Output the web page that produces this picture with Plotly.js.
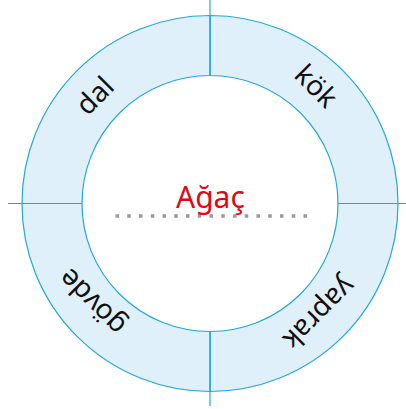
<!DOCTYPE html>
<html>
<head>
<meta charset="utf-8">
<script src="https://cdn.plot.ly/plotly-3.0.1.min.js"></script>
<style>html,body{margin:0;padding:0;background:#fff;}#chart{width:406px;height:409px;}</style>
</head>
<body>
<div id="chart"></div>
<script>
// Data
const categories = ["kök", "yaprak", "gövde", "dal"];
const sliceValues = [1, 1, 1, 1];
const centerTitle = "Ağaç";
// label placement (polar, in px around the ring centre) and rotation
const labelAngles = [48, -45, -140, 137];     // degrees, counter-clockwise from +x
const labelRadii = [160, 157, 155, 159];
const labelRotations = [45, 135, -135, -45];

// Layout geometry (pixels)
const W = 406, H = 409;
const cx = 210, cy = 203.5;         // centre from top-left
const rOut = 188, rIn = 128;
const stroke = "#22a7e2", fill = "#dff0fb";

const px = x => x / W;
const py = y => (H - y) / H;

const pie = {
  type: "pie",
  labels: categories,
  values: sliceValues,
  sort: false,
  direction: "clockwise",
  rotation: 0,
  hole: rIn / rOut,
  textinfo: "none",
  hoverinfo: "skip",
  showlegend: false,
  marker: { colors: categories.map(() => fill), line: { color: stroke, width: 1.2 } },
  domain: { x: [px(cx - rOut), px(cx + rOut)], y: [py(cy + rOut), py(cy - rOut)] }
};

const annotations = categories.map((c, i) => {
  const a = labelAngles[i] * Math.PI / 180;
  return {
    text: c, xref: "paper", yref: "paper",
    x: px(cx + labelRadii[i] * Math.cos(a)), y: py(cy - labelRadii[i] * Math.sin(a)),
    xanchor: "center", yanchor: "middle", showarrow: false,
    textangle: labelRotations[i],
    font: { family: "Noto Sans", size: 28, color: "#111" }
  };
});
annotations.push({
  text: centerTitle, xref: "paper", yref: "paper",
  x: px(cx), y: py(196), xanchor: "center", yanchor: "middle", showarrow: false,
  font: { family: "Noto Sans", size: 30, color: "#e30613" }
});

const ln = (x0, y0, x1, y1) => ({
  type: "line", xref: "paper", yref: "paper",
  x0: px(x0), y0: py(y0), x1: px(x1), y1: py(y1),
  line: { color: stroke, width: 1.2 }
});
const shapes = [
  ln(cx, 0, cx, cy - rIn),
  ln(cx, cy + rIn, cx, 406),
  ln(8, cy, cx - rIn, cy),
  ln(cx + rIn, cy, W, cy),
  { type: "line", xref: "paper", yref: "paper",
    x0: px(115.5), x1: px(307), y0: py(216), y1: py(216),
    line: { color: "#999999", width: 3.5, dash: "3.5px,8.25px" } }
];

Plotly.newPlot("chart", [pie], {
  width: W, height: H,
  margin: { l: 0, r: 0, t: 0, b: 0 },
  paper_bgcolor: "#fff",
  annotations: annotations,
  shapes: shapes
}, { displayModeBar: false, staticPlot: true });
</script>
</body>
</html>
